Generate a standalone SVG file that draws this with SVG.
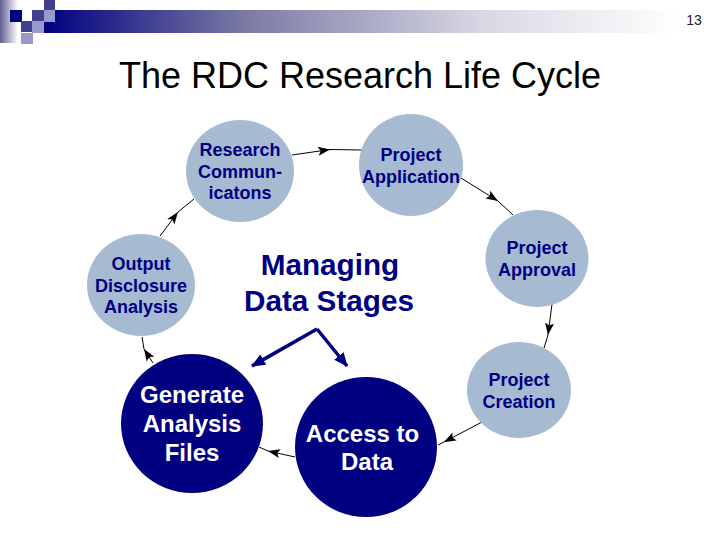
<svg xmlns="http://www.w3.org/2000/svg" width="720" height="540" viewBox="0 0 720 540">
<style>
text{font-family:"Liberation Sans",Arial,sans-serif;text-anchor:middle}
.l{fill:#a6bbd1}.d{fill:#000080}
.lt{fill:#000080;font-weight:bold;font-size:18px}
.dt{fill:#fff;font-weight:bold;font-size:24px}
.c{fill:none;stroke:#000;stroke-width:1;marker-end:url(#a)}
.t{fill:none;stroke:#000;stroke-width:1}
.m{fill:none;stroke:#000080;stroke-width:3.500;marker-end:url(#h)}
.big{fill:#000080;font-weight:bold;font-size:29.700px}
</style>
<defs>
<linearGradient id="b" gradientUnits="userSpaceOnUse" x1="44" x2="680" y1="0" y2="0"><stop offset="0" stop-color="#000080"/><stop offset=".31" stop-color="#7878a3"/><stop offset=".69" stop-color="#d8d8e4"/><stop offset="1" stop-color="#fff"/></linearGradient>
<linearGradient id="s" x1="0" x2="1" y1="0" y2="0"><stop offset="0" stop-color="#60608f"/><stop offset="1" stop-color="#fff"/></linearGradient>
<marker id="a" viewBox="0 0 12 10" refX="12" refY="5" markerWidth="12" markerHeight="10" markerUnits="userSpaceOnUse" orient="auto"><path d="M0 0.500L12 5L0 9.500L2.500 5z" fill="#000"/></marker>
<marker id="h" viewBox="0 0 14 12" refX="13" refY="6" markerWidth="14" markerHeight="12" markerUnits="userSpaceOnUse" orient="auto"><path d="M0 0L14 6L0 12z" fill="#000080"/></marker>
</defs>
<g id="header">
<rect x="0" y="0" width="18" height="43" fill="url(#s)"/>
<rect x="44" y="10" width="636" height="23" fill="url(#b)"/>
<rect x="22" y="0" width="33" height="22" fill="#fff"/>
<rect x="10" y="10" width="12" height="12" fill="#000080"/>
<rect x="44" y="0" width="11" height="10" fill="#40408f"/>
<rect x="32" y="10" width="12" height="11" fill="#40408f"/>
<rect x="44" y="10" width="11" height="12" fill="#9999cc"/>
<rect x="21" y="21" width="11" height="11" fill="#40408f"/>
<rect x="32" y="21" width="12" height="12" fill="#9999cc"/>
<rect x="21" y="33" width="12" height="11" fill="#9999cc"/>
<text x="694" y="25" font-size="14" fill="#222">13</text>
</g>
<text id="title" x="360" y="88" font-size="36" fill="#000">The RDC Research Life Cycle</text>
<g id="connectors">
<path class="c" d="M292 155L330 149.500"/><path class="t" d="M330 149.500L362 150"/>
<path class="c" d="M461 178L498 201"/><path class="t" d="M498 201L513 215"/>
<path class="c" d="M552 304L548 335"/><path class="t" d="M548 335L544 348"/>
<path class="c" d="M482 422L444 442"/><path class="t" d="M444 442L438 445"/>
<path class="c" d="M295 457L268 451"/><path class="t" d="M268 451L259 447"/>
<path class="c" d="M153 363L144 349"/><path class="t" d="M144 349L142 337"/>
<path class="c" d="M160 236L178 212"/><path class="t" d="M178 212L194 199"/>
</g>
<g id="center-arrows">
<path class="m" d="M317 329L252 366"/>
<path class="m" d="M317 329L347 366"/>
</g>
<g id="managing"><text class="big" x="330" y="275">Managing</text><text class="big" x="329" y="311">Data Stages</text></g>
<g id="research"><ellipse class="l" cx="240" cy="171" rx="54" ry="51"/><text class="lt" x="240" y="156">Research</text><text class="lt" x="240" y="178">Commun-</text><text class="lt" x="240" y="199">icatons</text></g>
<g id="application"><ellipse class="l" cx="411" cy="165" rx="52" ry="51"/><text class="lt" x="411" y="161">Project</text><text class="lt" x="411" y="183">Application</text></g>
<g id="approval"><ellipse class="l" cx="537" cy="258.500" rx="51.500" ry="48.500"/><text class="lt" x="537" y="254">Project</text><text class="lt" x="537" y="276">Approval</text></g>
<g id="creation"><ellipse class="l" cx="519" cy="390" rx="52" ry="48"/><text class="lt" x="519" y="386">Project</text><text class="lt" x="519" y="408">Creation</text></g>
<g id="output"><ellipse class="l" cx="141" cy="285" rx="54" ry="51"/><text class="lt" x="141" y="270">Output</text><text class="lt" x="141" y="292">Disclosure</text><text class="lt" x="141" y="313">Analysis</text></g>
<g id="access"><ellipse class="d" cx="366" cy="447" rx="71" ry="70"/><text class="dt" x="362.500" y="442">Access to</text><text class="dt" x="367" y="470">Data</text></g>
<g id="generate"><ellipse class="d" cx="192" cy="423.500" rx="71" ry="69.500"/><text class="dt" x="192" y="403">Generate</text><text class="dt" x="192" y="432">Analysis</text><text class="dt" x="192" y="461">Files</text></g>
</svg>
